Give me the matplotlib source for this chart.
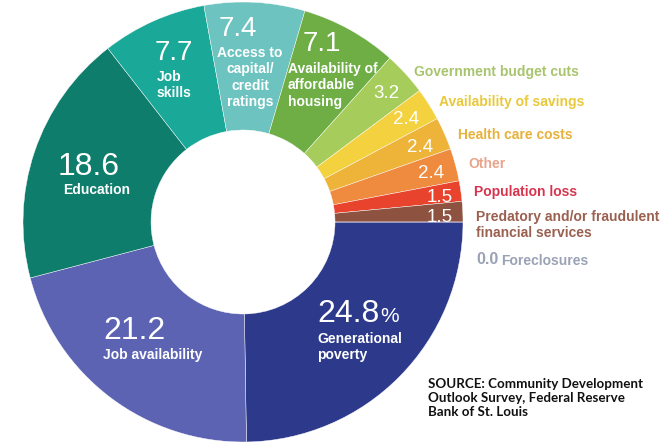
import matplotlib
matplotlib.use("Agg")
import matplotlib.pyplot as plt

# ---- data ----
categories = ["Generational poverty", "Job availability", "Education", "Job skills",
              "Access to capital/credit ratings", "Availability of affordable housing",
              "Government budget cuts", "Availability of savings", "Health care costs",
              "Other", "Population loss", "Predatory and/or fraudulent financial services",
              "Foreclosures"]
values = [24.8, 21.2, 18.6, 7.7, 7.4, 7.1, 3.2, 2.4, 2.4, 2.4, 1.5, 1.5, 0.0]
number_labels = ["24.8", "21.2", "18.6", "7.7", "7.4", "7.1", "3.2", "2.4", "2.4", "2.4", "1.5", "1.5", "0.0"]
inner_labels = ["Generational\npoverty", "Job availability", "Education", "Job\nskills",
                "Access to\ncapital/\ncredit\nratings", "Availability of\naffordable\nhousing"]
outer_labels = ["Government budget cuts", "Availability of savings", "Health care costs",
                "Other", "Population loss", "Predatory and/or fraudulent\nfinancial services",
                "Foreclosures"]
source_text = "SOURCE: Community Development\nOutlook Survey, Federal Reserve\nBank of St. Louis"

# ---- styles ----
wedge_colors = ["#2D3A8C", "#5C63B3", "#0F7D6C", "#1AA898", "#6DC3BF", "#6EAE45",
                "#A6CD5B", "#F4D23F", "#EEB43A", "#EE8B3E", "#E8432C", "#8E5241", "#9AA2B5"]
outer_text_colors = ["#A9C46E", "#E9C83C", "#E6B23C", "#E8A48A", "#D8344E", "#9A6050", "#9AA2B5"]

W, H = 672, 443
fig = plt.figure(figsize=(W / 100, H / 100), dpi=100)
fig.patch.set_facecolor("white")

cx, cy, R, r = 243, 222, 220, 92
ax = fig.add_axes([(cx - R) / W, (H - cy - R) / H, 2 * R / W, 2 * R / H])
ax.pie(values, startangle=0, counterclock=False, colors=wedge_colors, radius=1,
       wedgeprops=dict(width=1 - r / R, edgecolor="white", linewidth=0.3))
ax.set_xlim(-1, 1)
ax.set_ylim(-1, 1)
ax.set_aspect("equal")
ax.axis("off")


def fx(x):
    return x / W


def fy(y):
    return 1 - y / H


num_font = "Liberation Sans"
lab_font = "Liberation Sans"

# big numbers inside wedges: (x, y, size, ha)
num_pos = [(317, 314, 23, "left"), (103, 331, 23, "left"), (58, 167, 23, "left"),
           (155, 53, 20, "left"), (238, 29, 20, "center"), (303, 44, 20, "left"),
           (373, 93, 13.5, "left"), (393, 119, 13.5, "left"), (407, 147, 13.5, "left"),
           (418, 174, 13.5, "left"), (427, 198, 13.5, "left"), (427, 217, 13.5, "left")]
# first-line position of each inner label
lab_pos = [(317, 339, "left"), (103, 355, "left"), (63, 190, "left"), (157, 77, "left"),
           (250, 53, "center"), (288, 69, "left")]
line_step = 16.3

for i, (x, y, s, ha) in enumerate(num_pos):
    t = fig.text(fx(x), fy(y), number_labels[i], fontsize=s, family=num_font,
                 color="white", ha=ha, va="center")
    if i == 0:
        fig.canvas.draw()
        bb = t.get_window_extent()
        fig.text(bb.x1 / W + 0.002, fy(y + 3), "%", fontsize=15, family=num_font,
                 color="white", ha="left", va="center")

for i, (x, y, ha) in enumerate(lab_pos):
    for k, line in enumerate(inner_labels[i].split("\n")):
        fig.text(fx(x), fy(y + k * line_step), line, fontsize=10, family=lab_font,
                 weight="bold", color="white", ha=ha, va="center")

# outer labels
out_pos = [(414, 72), (439, 102), (458, 135), (468, 164), (474, 192), (476, 225)]
for i, (x, y) in enumerate(out_pos):
    fig.text(fx(x), fy(y), outer_labels[i], fontsize=10, family=lab_font, weight="bold",
             color=outer_text_colors[i], ha="left", va="center", linespacing=1.15)

t0 = fig.text(fx(476), fy(260), number_labels[12], fontsize=11.5, family=lab_font, weight="bold",
              color=outer_text_colors[6], ha="left", va="center")
fig.canvas.draw()
bb0 = t0.get_window_extent()
fig.text(bb0.x1 / W + 0.005, fy(261), outer_labels[6], fontsize=10, family=lab_font, weight="bold",
         color=outer_text_colors[6], ha="left", va="center")

fig.text(fx(428), fy(398), source_text, fontsize=9.6, family="Lato", weight="bold",
         color="#111111", ha="left", va="center", linespacing=1.25)

fig.savefig("out.png", dpi=100, facecolor="white")
